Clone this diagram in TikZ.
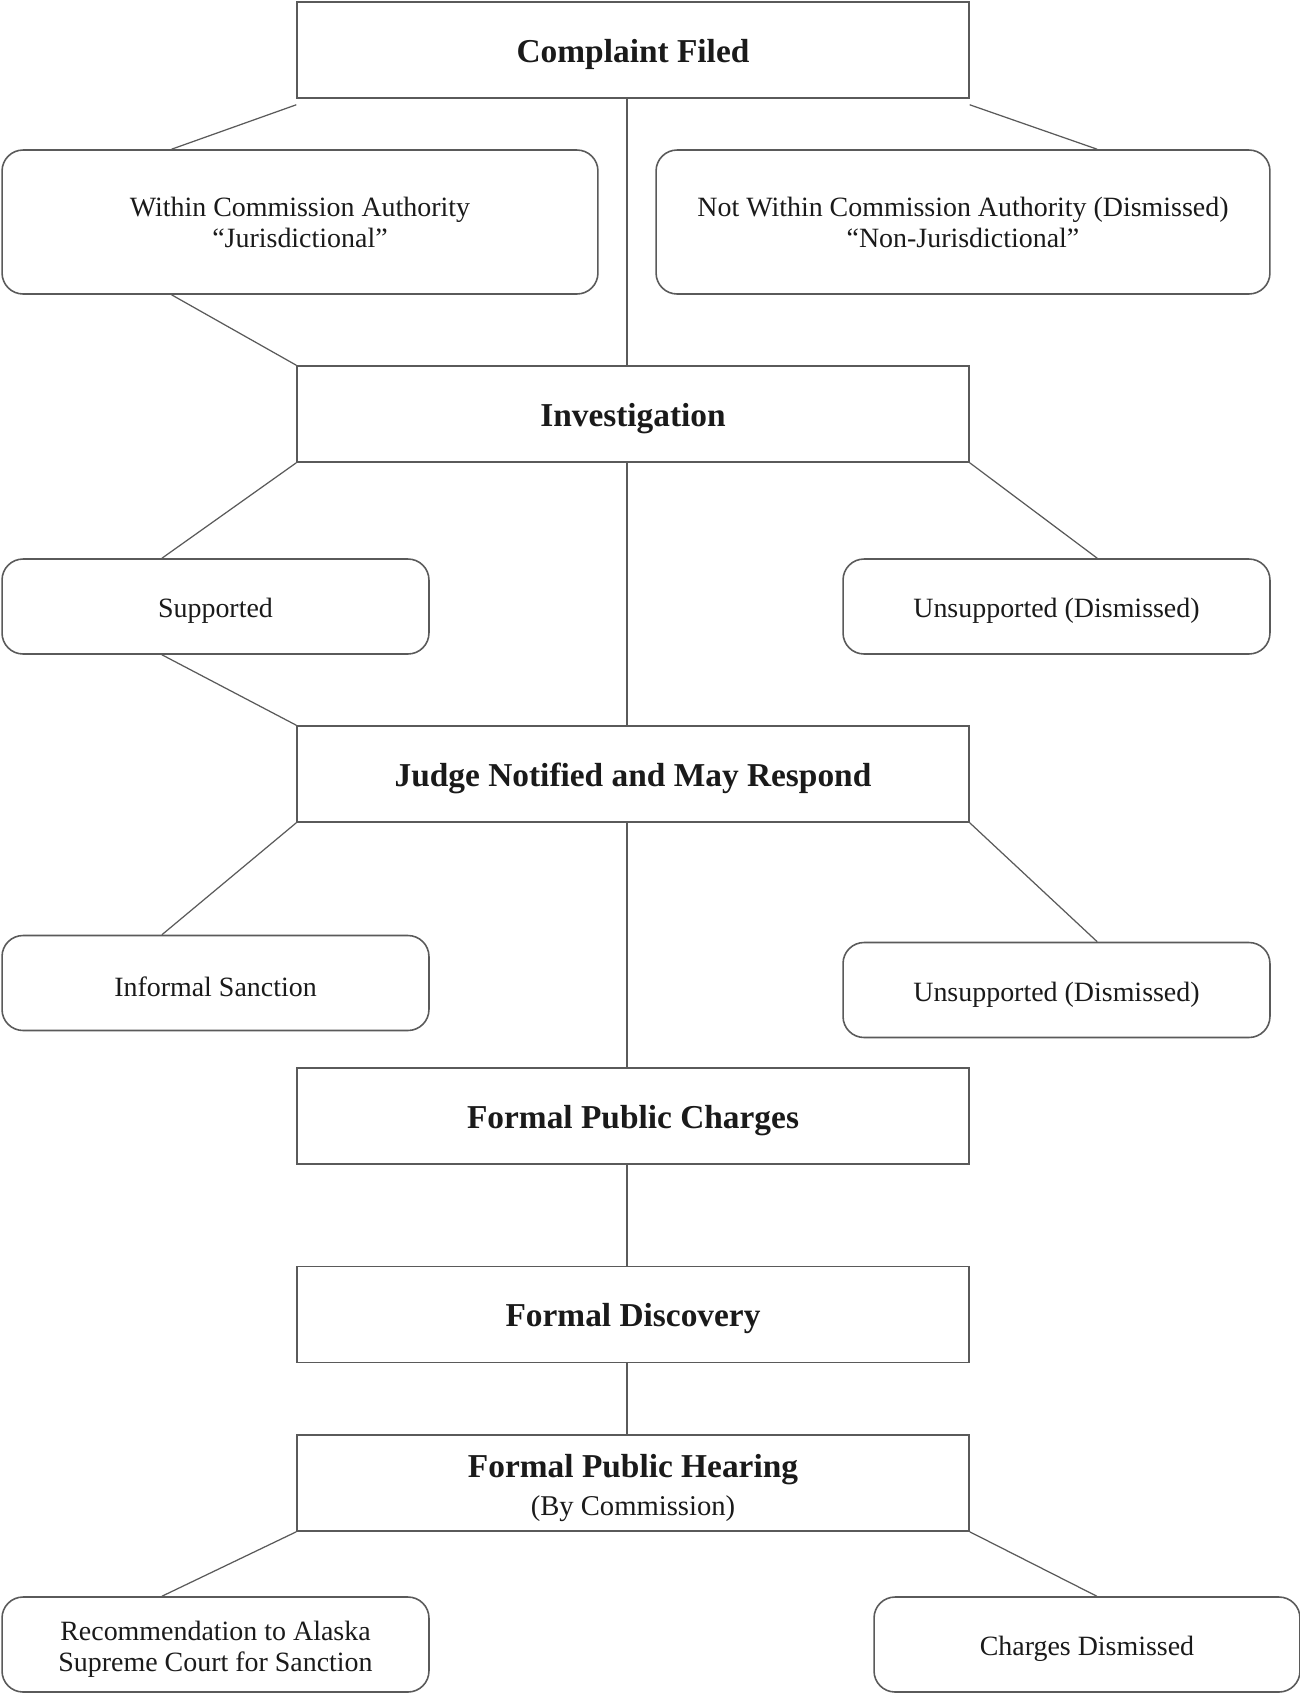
\documentclass[tikz,border=0pt]{standalone}
\usepackage{fontspec}
\setmainfont{Liberation Serif}
\usetikzlibrary{calc}
\definecolor{linegray}{HTML}{5A5A5A}
\definecolor{inkblack}{HTML}{1A1A1A}

\begin{document}
\begin{tikzpicture}[x=0.02cm,y=-0.02cm,
  stepbox/.style={draw=linegray,line width=0.9pt,rectangle,minimum width=13.44cm,minimum height=1.92cm,
    inner sep=0pt,text=inkblack,align=center,font=\fontsize{19}{21.5}\selectfont\bfseries,
    execute at begin node={\rule{0pt}{18pt}}},
  outbox/.style={draw=linegray,line width=0.9pt,rectangle,rounded corners=0.42cm,minimum height=1.9cm,
    inner sep=0pt,text=inkblack,align=center,font=\fontsize{15.9}{17.6}\selectfont,
    execute at begin node={\rule{0pt}{16pt}}},
  lowered/.style={execute at begin node={\rule{0pt}{#1}}},
  link/.style={draw=linegray,line width=0.7pt}]
  \useasboundingbox[fill=white] (0,0) rectangle (1300,1694);
  % main steps
  \path (633,50) node[stepbox] (filed) {Complaint Filed}
  (633,414) node[stepbox] (inv) {Investigation}
  (633,774) node[stepbox] (judge) {Judge Notified and May Respond}
  (633,1116) node[stepbox] (charges) {Formal Public Charges}
  (633,1314.5) node[stepbox] (discovery) {Formal Discovery}
  (633,1483) node[stepbox,lowered=40pt] (hearing) {Formal Public Hearing\\{\mdseries\fontsize{16.3}{21.5}\selectfont (By Commission)}};
  % outcomes
  \path (300,222) node[outbox,minimum width=11.92cm,minimum height=2.88cm] (within) {Within Commission Authority\\``Jurisdictional''}
  (963,222) node[outbox,minimum width=12.28cm,minimum height=2.88cm] (notwithin) {Not Within Commission Authority (Dismissed)\\``Non-Jurisdictional''}
  (215.5,606.5) node[outbox,minimum width=8.54cm] (supp) {Supported}
  (1056.5,606.5) node[outbox,minimum width=8.54cm] (unsupp) {Unsupported (Dismissed)}
  (215.5,983) node[outbox,minimum width=8.54cm] (informal) {Informal Sanction}
  (1056.5,990) node[outbox,minimum width=8.54cm] (unsuppb) {Unsupported (Dismissed)}
  (215.5,1644.5) node[outbox,minimum width=8.54cm,lowered=34.5pt] (recommend) {Recommendation to Alaska\\Supreme Court for Sanction}
  (1087,1644.5) node[outbox,minimum width=8.52cm] (dismissed) {Charges Dismissed};
  % connectors
  \draw[link] ([yshift=-0.12cm]filed.south west) -- ($(within.north west)!0.285!(within.north east)$);
  \draw[link] ([yshift=-0.12cm]filed.south east) -- ($(notwithin.north west)!0.718!(notwithin.north east)$);
  \draw[link] ([xshift=-0.12cm]filed.south) -- ([xshift=-0.12cm]inv.north);
  \draw[link] ($(within.south west)!0.285!(within.south east)$) -- (inv.north west);
  \draw[link] (inv.south west) -- ($(supp.north west)!0.375!(supp.north east)$);
  \draw[link] (inv.south east) -- ($(unsupp.north west)!0.595!(unsupp.north east)$);
  \draw[link] ([xshift=-0.12cm]inv.south) -- ([xshift=-0.12cm]judge.north);
  \draw[link] ($(supp.south west)!0.375!(supp.south east)$) -- (judge.north west);
  \draw[link] (judge.south west) -- ($(informal.north west)!0.375!(informal.north east)$);
  \draw[link] (judge.south east) -- ($(unsuppb.north west)!0.595!(unsuppb.north east)$);
  \draw[link] ([xshift=-0.12cm]judge.south) -- ([xshift=-0.12cm]charges.north);
  \draw[link] ([xshift=-0.12cm]charges.south) -- ([xshift=-0.12cm]discovery.north);
  \draw[link] ([xshift=-0.12cm]discovery.south) -- ([xshift=-0.12cm]hearing.north);
  \draw[link] (hearing.south west) -- ($(recommend.north west)!0.375!(recommend.north east)$);
  \draw[link] (hearing.south east) -- ($(dismissed.north west)!0.523!(dismissed.north east)$);
\end{tikzpicture}
\end{document}
